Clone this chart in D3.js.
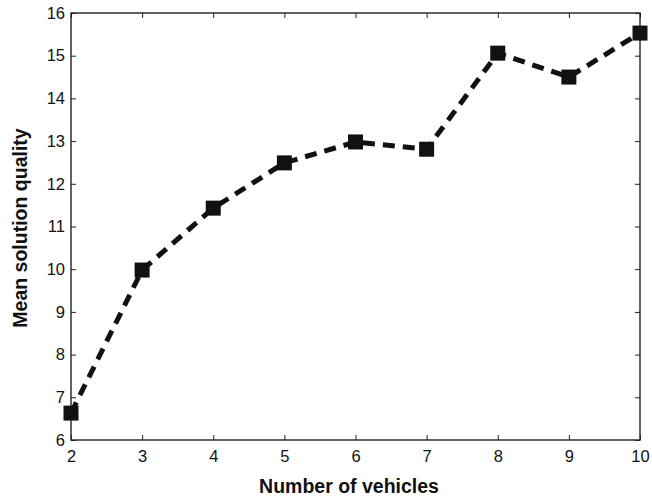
<!DOCTYPE html>
<html><head><meta charset="utf-8">
<script src="https://cdn.jsdelivr.net/npm/d3@7"></script>
<style>body{margin:0;background:#fff}svg{display:block}</style>
</head><body>
<script>
const vehicles = [2,3,4,5,6,7,8,9,10];
const quality = [6.63,9.98,11.43,12.49,12.98,12.81,15.06,14.5,15.53];
const xTicks = [2,3,4,5,6,7,8,9,10];
const yTicks = [6,7,8,9,10,11,12,13,14,15,16];

const W=652,H=502;
const m={l:71,r:12,t:13,b:62};
const svg=d3.select("body").append("svg").attr("width",W).attr("height",H);
const x=d3.scaleLinear().domain([2,10]).range([m.l,W-m.r]);
const y=d3.scaleLinear().domain([6,16]).range([H-m.b,m.t]);
const font="Liberation Sans, Arial, sans-serif";

// box
svg.append("rect").attr("x",m.l).attr("y",m.t).attr("width",W-m.r-m.l).attr("height",H-m.b-m.t)
  .attr("fill","none").attr("stroke","#222").attr("stroke-width",1.4);

const gx=svg.append("g").attr("transform",`translate(0,${H-m.b})`)
  .call(d3.axisBottom(x).tickValues(xTicks).tickSizeInner(-5).tickSizeOuter(0).tickPadding(10).tickFormat(d3.format("d")));
const gy=svg.append("g").attr("transform",`translate(${m.l},0)`)
  .call(d3.axisLeft(y).tickValues(yTicks).tickSizeInner(-5).tickSizeOuter(0).tickPadding(6).tickFormat(d3.format("d")));
const gxt=svg.append("g").attr("transform",`translate(0,${m.t})`)
  .call(d3.axisTop(x).tickValues(xTicks).tickSizeInner(-5).tickSizeOuter(0).tickFormat(""));
const gyr=svg.append("g").attr("transform",`translate(${W-m.r},0)`)
  .call(d3.axisRight(y).tickValues(yTicks).tickSizeInner(-5).tickSizeOuter(0).tickFormat(""));
[gx,gy,gxt,gyr].forEach(g=>{g.select(".domain").remove();g.selectAll("line").attr("stroke","#222");
  g.selectAll("text").attr("font-family",font).attr("font-size",16.5).attr("fill","#111");});

const line=d3.line().x((d,i)=>x(vehicles[i])).y(d=>y(d));
svg.append("path").datum(quality).attr("d",line).attr("fill","none").attr("stroke","#111")
  .attr("stroke-width",5).attr("stroke-dasharray","12,8");
const s=15;
svg.selectAll("rect.pt").data(quality).join("rect").attr("class","pt")
  .attr("x",(d,i)=>x(vehicles[i])-s/2).attr("y",d=>y(d)-s/2).attr("width",s).attr("height",s).attr("fill","#111");

svg.append("text").attr("x",349).attr("y",493).attr("text-anchor","middle")
  .attr("font-family",font).attr("font-weight","bold").attr("font-size",19.5).attr("fill","#111").text("Number of vehicles");
svg.append("text").attr("transform",`translate(27,228) rotate(-90)`).attr("text-anchor","middle")
  .attr("font-family",font).attr("font-weight","bold").attr("font-size",19.5).attr("fill","#111").text("Mean solution quality");
</script>
</body></html>
